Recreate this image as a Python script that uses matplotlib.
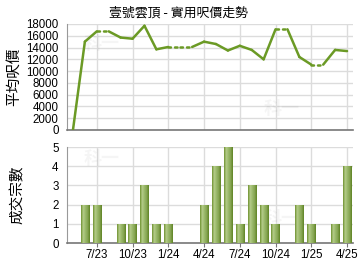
import numpy as np
import matplotlib
matplotlib.use("Agg")
import matplotlib.pyplot as plt
from matplotlib.colors import LinearSegmentedColormap

plt.rcParams['font.family'] = ['Noto Sans CJK TC', 'DejaVu Sans']

months = ["5/23", "6/23", "7/23", "8/23", "9/23", "10/23", "11/23", "12/23",
          "1/24", "2/24", "3/24", "4/24", "5/24", "6/24", "7/24", "8/24",
          "9/24", "10/24", "11/24", "12/24", "1/25", "2/25", "3/25", "4/25"]
prices = [0, 15000, 16750, None, 15700, 15500, 17700, 13700,
          14100, None, None, 15000, 14600, 13500, 14300, 13600,
          12000, 17100, None, 12400, 11100, None, 13600, 13400]
counts = [0, 2, 2, 0, 1, 1, 3, 1,
          1, 0, 0, 2, 4, 5, 1, 3,
          2, 1, 0, 2, 1, 0, 1, 4]
tick_labels = ["7/23", "10/23", "1/24", "4/24", "7/24", "10/24", "1/25", "4/25"]
title = "壹號雲頂 - 實用呎價走勢"
ylabel_top = "平均呎價"
ylabel_bot = "成交宗數"

x = np.arange(len(months))
tick_pos = [months.index(t) for t in tick_labels]

line_c = "#6b9a25"
grid_c = "#dcdcdc"

fig = plt.figure(figsize=(3.6, 2.7), dpi=100)
ax1 = fig.add_axes([67/360, 1-130/270, 286/360, 106/270])
ax2 = fig.add_axes([67/360, 1-243/270, 286/360, 96/270])

# forward fill for plotting
filled = []
missing = []
last = None
for p in prices:
    if p is None:
        filled.append(last)
        missing.append(True)
    else:
        filled.append(p)
        last = p
        missing.append(False)

for i in range(1, len(x)):
    ls = (0, (1, 1.6)) if missing[i] else '-'
    ax1.plot(x[i-1:i+1], filled[i-1:i+1], color=line_c, lw=1.8, ls=ls,
             solid_capstyle='round', dash_capstyle='round', zorder=3)

for ax in (ax1, ax2):
    ax.set_xlim(-0.5, 23.5)
    ax.set_xticks(tick_pos)
    ax.grid(True, color=grid_c, lw=1)
    ax.set_axisbelow(True)
    for s in ('top', 'right'):
        ax.spines[s].set_visible(False)
    ax.spines['left'].set_color('#999999')
    ax.spines['bottom'].set_color('#777777')
    ax.spines['bottom'].set_linewidth(1.2)
    ax.tick_params(axis='y', length=0, labelsize=8.3, pad=6)
    ax.tick_params(axis='x', length=3, color='#777777', labelsize=8.3, pad=1.5)

ax1.set_ylim(0, 18000)
ax1.set_yticks(np.arange(0, 18001, 2000))
ax1.set_xticklabels([])
ax1.tick_params(axis='x', length=0)

ax2.set_ylim(0, 5)
ax2.set_yticks(range(6))
ax2.set_xticklabels(tick_labels)

cmap = LinearSegmentedColormap.from_list("g", ["#6f9230", "#b5cc8a", "#9ab86a", "#86a552", "#5f8424"])
grad = np.linspace(0, 1, 64).reshape(1, -1)
bars = ax2.bar(x, counts, width=0.68, color='none', edgecolor='none', zorder=3)
for b in bars:
    h = b.get_height()
    if h <= 0:
        continue
    x0 = b.get_x()
    w = b.get_width()
    im = ax2.imshow(grad, cmap=cmap, aspect='auto', extent=(x0, x0 + w, 0, h), zorder=3)
    im.set_clip_path(b)
ax2.set_xlim(-0.5, 23.5)
ax2.set_ylim(0, 5)

for ax in (ax1, ax2):
    for tl in ax.get_xticklabels() + ax.get_yticklabels():
        tl.set_fontfamily(['Liberation Sans', 'DejaVu Sans'])

# faint watermark
for (ax, xx, yy) in ((ax1, 0.12, 0.82), (ax1, 0.75, 0.2), (ax2, 0.12, 0.88), (ax2, 0.75, 0.25)):
    ax.text(xx, yy, "科一", transform=ax.transAxes, fontsize=13, color='#000000', alpha=0.04,
            fontweight='bold', ha='center', va='center', zorder=1)

fig.text(0.497, 1-13/270, title, ha='center', va='center', fontsize=9.3)
fig.text(14/360, 1-77/270, ylabel_top, rotation=90, ha='center', va='center', fontsize=10.5)
fig.text(18/360, 1-195/270, ylabel_bot, rotation=90, ha='center', va='center', fontsize=10.5)

fig.savefig("out.png", dpi=100)
